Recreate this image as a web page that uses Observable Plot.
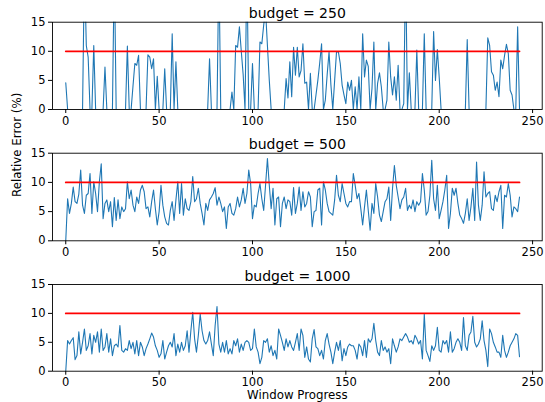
<!DOCTYPE html>
<html><head><meta charset="utf-8">
<script src="https://cdn.jsdelivr.net/npm/d3@7"></script>
<script src="https://cdn.jsdelivr.net/npm/@observablehq/plot@0.6"></script>
<style>
html,body{margin:0;padding:0;background:#fff;}
#chart{position:relative;width:545px;height:402px;overflow:hidden;background:#fff;}
#chart > svg{position:absolute;left:0;}
</style></head><body><div id="chart"></div>
<script>
const budgets = [250, 500, 1000];
const errB250 = [
4.6,0,0,0,0,0,0,0,0,0,
25,11,9,0,0,11,0,0,0,0,
0,7.3,0,0,0,0,25,0,0,0,
0,0,0,10.9,0,0,4,7.9,7.6,9.3,
0,0,0,0,9.4,9.0,7.0,8.7,0,5.7,
0,0,0,7,0,0,0,13,0,8.2,
0,0,0,0,0,0,0,0,0,0,
0,0,0,0,0,0,0,8.7,0,0,
0,0,25,0,0,0,0,0,0,3,
0,11,10.7,14.2,10,6,0,25,0,0,
7.9,0,0,0,11.6,11.3,14.5,17,11,5,
0,0,0,0,0,0,0,0,5.3,2,
8.2,2.2,10.7,5.9,10.7,5.6,6.7,11.3,4.5,4.7,
0,6.2,0,0,2.5,5,8,11.3,0,1.6,
6,9.9,4.2,0,5,9.9,9.9,7.9,4.2,2.5,
1,4.7,3.3,5,0,3.9,0,5.6,0,13,
5.6,8.5,7.4,0,3.6,11.6,0,4.5,6.3,3.9,
0,0,1.6,11.6,5.6,2.5,5.6,1.6,7.6,0,
0,1,25,0,6.3,0,0,0,10.2,0,
0,0,13,0,0,0,0,13.4,5,10.3,
5.5,0,0,0,0,0,0,0,0,0,
0,0,0,0,0,12,0,0,0,0,
0,0,0,0,0,0,12.3,11,6.5,5.9,
3.3,4.7,2.2,8.5,7,9.3,11.2,9.6,3.3,2.5,
0,0,14.2,0];
const errB500 = [
0,7.2,4.7,6.4,9.2,6.7,6.4,8,12.1,6.1,
4.7,7.8,8.1,11.5,4.7,10.1,8.1,5,10.1,13.2,
3.8,6.4,7,5,6.7,2.4,7.4,3.5,7,3.8,
5.8,5,5.5,10.1,7.2,8.7,6.1,5,7.5,6.4,
8.7,9.5,8.4,5.5,5.8,4.1,6.7,8.7,5.5,2.7,
5,9.5,6.1,4.1,3,2.7,5.2,6.7,3.5,7,
10.1,4.7,9.8,4.4,7.2,5.5,5.2,6.7,11,6.7,
7.2,9,6.4,4.7,2.7,6.4,5.2,7,7.5,8.1,
9.1,6.1,7.5,6.4,5,5.8,2.1,5.8,6.4,4.7,
4.4,5.5,7.5,5.8,7,9,6.4,8.1,12.1,9.8,
3.8,6.1,5.8,8.1,9.8,7.2,5.2,9.5,14.1,9.5,
5.5,9,2.7,7.2,7.5,2.4,6.4,7.5,5.5,7,
6.7,4.4,9.1,4.7,6.4,9.2,5.2,8.4,5.8,6.4,
8.4,7.5,2.4,5,5.2,8.7,9,2.7,10.1,8.7,
6.4,5,4.7,4.4,7,11.2,7.8,6.7,9.8,8.1,
6.4,5.8,6.7,6.7,11.5,9.5,7.2,8.1,5.5,2.7,
5.8,8.7,5.2,1.8,6.4,4.7,9.8,7.5,4.4,3.3,
5,6.7,7.2,9.2,3.5,9,12.9,9.5,7.5,5.5,
7,7.5,9,5.2,6.1,5.5,7,5,6.7,6.1,
6.7,11.5,8.7,4.4,5,7.8,13.8,7.2,5.2,9.5,
3.8,5.2,6.7,8.7,11.2,2.1,4.7,9,7.8,9,
6.4,4.4,3.8,3,4.7,7.2,3.5,5.8,9,3.5,
13.5,6.1,3.5,6.1,11.8,7.5,8.1,8.4,5.5,5.2,
7.8,6.7,8.4,9.5,2.1,7.8,7.5,9.8,7.8,4.1,
5.8,5.5,5,7.5];
const errB1000 = [
0,5.3,4.7,5.3,5.8,2,2.7,6.8,3,5,
7.3,3.6,4.4,6.5,3,6.2,5,6.8,3.3,7.3,
3.6,4.2,6.5,3.3,5.6,2.7,4.4,4.7,4.2,7.9,
3.6,3.3,3.9,3.6,5.3,3.9,5,3,5.3,2.7,
5,4.2,2.7,3.9,4.7,5.6,6.6,5.9,4.4,3.6,
2.4,3,5.3,2.1,3.3,4.4,5,4.2,6.5,2.7,
4.7,3.3,5,3.6,4.4,7,3.3,7,10.2,5.6,
3.3,6.2,9.9,7,5.3,4.7,5.3,6.8,4.7,2.7,
7.9,11.2,4.7,3.3,5,3.3,5.3,3,3.9,3,
5.3,4.4,5.6,3.3,4.7,3.6,5,5.3,5,3.6,
3.9,7.3,4.2,3.3,1.3,2.4,5.3,5,5.6,3.3,
4.4,2.7,3.6,2.1,7.3,6.2,5,3.6,5.6,4.2,
5.3,4.2,3.6,5,6.5,3.6,7.3,6.2,2.4,4.2,
2.1,1.6,5.6,7.2,4.2,3.9,2.7,3.6,2.1,5.3,
6.5,4.7,3.3,1.3,3.3,5,3.6,5.3,1.8,3.9,
2.7,4.2,4.7,4.4,4.4,3.6,2.1,4.7,4.2,2.7,
5.3,2.4,5.6,5,5.6,8.3,5.3,3.3,2.7,5.3,
3.6,4.2,3.3,3.9,1.3,5.6,4.4,3.3,4.2,5.6,
5.3,5.9,6.5,5.9,5,5.3,4.7,6.2,5.6,4.7,
5.3,2.1,9.9,3.6,2.7,1.7,4.4,3.6,4.4,7.6,
3.6,3.3,5.3,4.7,5.3,3.3,6.8,3.3,3.9,5,
5.6,5,3.6,9.3,4.4,3.6,6.2,6.8,9.5,5,
4.2,4.7,5.6,8.7,5.3,3.6,0.8,7.3,6.5,5,
4.2,3.3,3.3,2.4,6.2,3.6,2.4,3.3,4.4,5,
5.6,6.5,6.2,2.5];
const threshold = [10];
const xTicks = [0, 50, 100, 150, 200, 250];
const yTicks = [0, 5, 10, 15];
const yDomain = [0, 15];
const xLabel = "Window Progress";
const yLabel = "Relative Error (%)";

const series = [errB250, errB500, errB1000];
const W = 545, ML = 52, MR = 3.3;
const layout = [
  {top: 0,   height: 130, mt: 21.7, mb: 21,   titleY: 13},
  {top: 130, height: 130, mt: 22.7, mb: 19.7, titleY: 14},
  {top: 260, height: 142, mt: 24,   mb: 31.3, titleY: 16}
];
const root = document.getElementById("chart");

series.forEach((vals, i) => {
  const L = layout[i];
  const data = vals.map((v, k) => ({k, v}));
  const ext = d3.extent(data, d => d.k);
  const pad = (ext[1] - ext[0]) * 0.05;
  const thr = [{k: ext[0], v: threshold[0]}, {k: ext[1], v: threshold[0]}];
  const marks = [
    Plot.line(data, {x: "k", y: "v", stroke: "#1f77b4", strokeWidth: 1.1, clip: true}),
    Plot.line(thr, {x: "k", y: "v", stroke: "#ff0000", strokeWidth: 1.8}),
    Plot.frame({stroke: "black", strokeWidth: 0.9}),
    Plot.text([`budget = ${budgets[i]}`], {text: d => d, frameAnchor: "top", dy: -(L.mt - L.titleY), lineAnchor: "middle", fontSize: 14, fill: "black"})
  ];
  if (i === 1) marks.push(Plot.text([yLabel], {text: d => d, frameAnchor: "left", dx: -(ML - 17), rotate: -90, lineAnchor: "middle", fontSize: 11.8, fill: "black"}));
  if (i === 2) marks.push(Plot.text([xLabel], {text: d => d, frameAnchor: "bottom", dy: 24.5, lineAnchor: "middle", fontSize: 11.8, fill: "black"}));
  const svg = Plot.plot({
    width: W, height: L.height,
    marginLeft: ML, marginRight: MR, marginTop: L.mt, marginBottom: L.mb,
    style: {fontFamily: "DejaVu Sans", fontSize: "11.5px", color: "black", background: "transparent", overflow: "visible"},
    x: {domain: [ext[0] - 7.1, ext[1] + pad], ticks: xTicks, tickSize: 4, tickPadding: 3, label: null},
    y: {domain: yDomain, ticks: yTicks, tickSize: 4, tickPadding: 3, label: null},
    marks
  });
  svg.style.top = L.top + "px";
  root.appendChild(svg);
});
</script></body></html>
